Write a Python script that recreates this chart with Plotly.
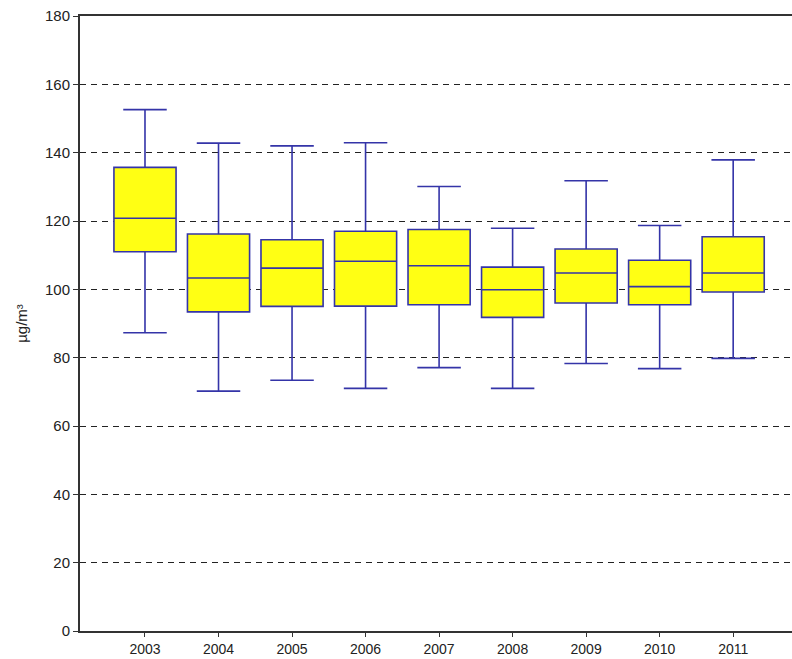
import plotly.graph_objects as go

# Annual distribution summary (µg/m³)
years = ["2003", "2004", "2005", "2006", "2007", "2008", "2009", "2010", "2011"]
lower_whisker = [87.3, 70.2, 73.4, 71.0, 77.1, 71.0, 78.3, 76.8, 79.8]
q1 = [111.0, 93.4, 95.0, 95.1, 95.5, 91.8, 96.0, 95.5, 99.2]
median = [120.8, 103.3, 106.2, 108.2, 106.9, 99.9, 104.8, 100.8, 104.8]
q3 = [135.7, 116.2, 114.5, 117.0, 117.5, 106.5, 111.8, 108.5, 115.4]
upper_whisker = [152.6, 142.8, 142.0, 142.9, 130.1, 117.9, 131.8, 118.7, 137.9]

y_ticks = list(range(0, 181, 20))

font_family = "Liberation Sans, Arial, sans-serif"

fig = go.Figure(
    go.Box(
        x=years,
        q1=q1,
        median=median,
        q3=q3,
        lowerfence=lower_whisker,
        upperfence=upper_whisker,
        width=0.845,
        whiskerwidth=0.7,
        fillcolor="#ffff14",
        line=dict(color="#3434a8", width=1.6),
        boxpoints=False,
        hoverinfo="skip",
        showlegend=False,
    )
)

fig.update_layout(
    width=792,
    height=659,
    margin=dict(l=80, r=0, t=16, b=28),
    paper_bgcolor="white",
    plot_bgcolor="white",
    font=dict(family=font_family, size=15, color="#222222"),
    xaxis=dict(
        type="category",
        range=[-0.884, 8.8],
        showline=True,
        linecolor="#333333",
        linewidth=2,
        mirror=True,
        ticks="outside",
        ticklen=4,
        tickcolor="#333333",
        tickfont=dict(size=14),
        showgrid=False,
        zeroline=False,
        automargin=False,
    ),
    yaxis=dict(
        range=[0, 180],
        tickvals=y_ticks,
        showline=True,
        linecolor="#333333",
        linewidth=2,
        ticks="outside",
        ticklen=5,
        tickcolor="#333333",
        showgrid=True,
        gridcolor="#222222",
        gridwidth=1.3,
        griddash="6px,5px",
        zeroline=False,
        automargin=False,
        title=dict(text="µg/m³", standoff=14, font=dict(size=15)),
    ),
)

fig.write_html("out.html")
